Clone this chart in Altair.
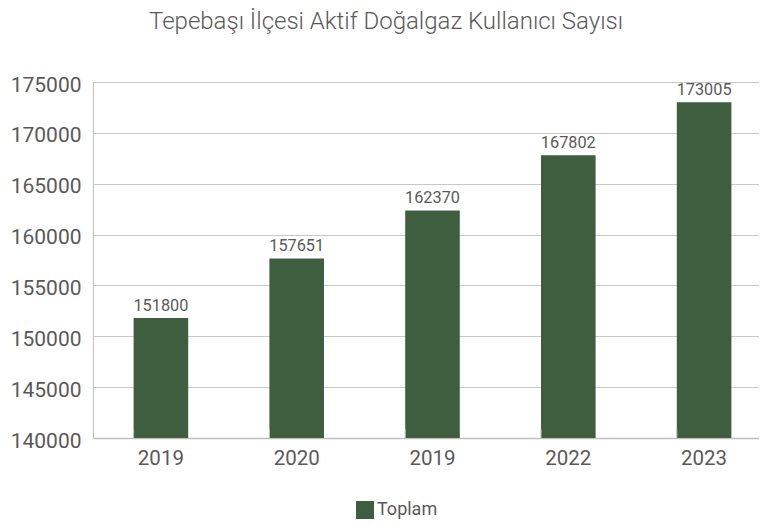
import altair as alt
import pandas as pd

years = ["2019", "2020", "2019", "2022", "2023"]
values = [151800, 157651, 162370, 167802, 173005]
series_name = "Toplam"

pos = [str(i) for i in range(len(years))]
df = pd.DataFrame({"pos": pos, "year": years, "value": values, "series": series_name})

label_expr = "[" + ",".join("'" + y + "'" for y in years) + "][toNumber(datum.value)]"

FONT = "Roboto"
TXT = "#595959"
BAR = "#3f5e40"
GRID = "#c8c8c8"

x_enc = alt.X("pos:N", sort=pos, title=None,
              scale=alt.Scale(range=[0, 679], paddingInner=0.598, paddingOuter=0.299),
              axis=alt.Axis(labelExpr=label_expr, labelAngle=0, labelFontSize=20.5,
                            labelColor=TXT, labelFont=FONT, labelPadding=10,
                            ticks=False, domainColor="#bfbfbf", domainWidth=1.3))
y_scale = alt.Scale(domain=[140000, 175000], nice=False, zero=False)

bars = alt.Chart(df).mark_bar(color=BAR, clip=True).encode(
    x=x_enc,
    y=alt.Y("value:Q", scale=y_scale, title=None,
            axis=alt.Axis(values=list(range(140000, 175001, 5000)), format="d",
                          labelFontSize=21, labelOffset=3,
                          labelColor=TXT, labelFont=FONT, labelPadding=12,
                          ticks=False, domain=True, domainColor="#bfbfbf",
                          gridColor=GRID, gridWidth=1)),
    color=alt.Color("series:N", scale=alt.Scale(range=[BAR]), title=None,
                    legend=alt.Legend(orient="none", legendX=263, legendY=419,
                                      symbolType="square", symbolSize=324,
                                      symbolStrokeWidth=0, labelFontSize=18,
                                      labelFont=FONT, labelColor=TXT, labelOffset=3)),
)

labels = alt.Chart(df).mark_text(baseline="bottom", dy=-4, fontSize=16.3, font=FONT,
                                 color=TXT).encode(
    x=alt.X("pos:N", sort=pos),
    y=alt.Y("value:Q", scale=y_scale),
    text="value:Q",
)

ticks = alt.Chart(df).mark_rule(color="#bfbfbf", strokeWidth=1).encode(
    x=alt.X("pos:N", sort=pos, bandPosition=0),
    y=alt.datum(140000),
    y2=alt.datum(140900),
)

chart = alt.layer(bars, labels, ticks).properties(
    width=666, height=356,
    title=alt.Title("Tepebaşı İlçesi Aktif Doğalgaz Kullanıcı Sayısı", fontSize=24,
                    font=FONT, fontWeight=300, color=TXT, anchor="middle",
                    dx=-40, offset=40),
    autosize=alt.AutoSizeParams(type="none"),
    padding={"left": 85, "top": 74, "right": 0, "bottom": 82},
).configure_view(stroke=None)

chart.save("out.html", embed_options={"renderer": "svg", "actions": False})
